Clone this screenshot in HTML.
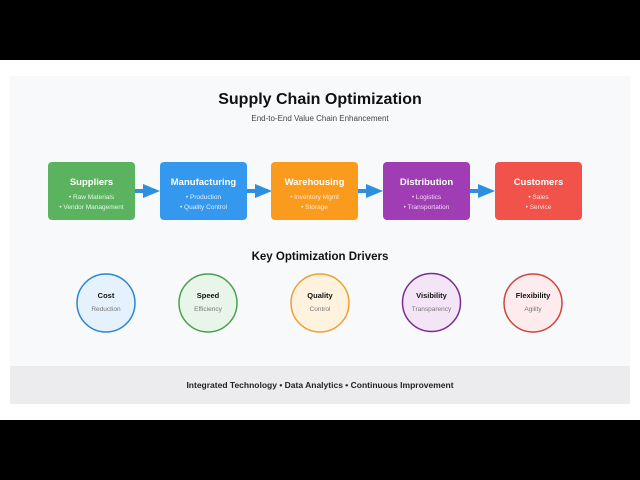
<!DOCTYPE html>
<html><head><meta charset="utf-8"><style>
html,body{margin:0;padding:0;background:#fff;}
svg{display:block;font-family:"Liberation Sans",Arial,sans-serif;}
</style></head><body>
<svg width="640" height="480" viewBox="0 0 640 480" xmlns="http://www.w3.org/2000/svg">
<rect x="0" y="0" width="640" height="60" fill="#000"/>
<rect x="0" y="420" width="640" height="60" fill="#000"/>
<rect x="10" y="76" width="620" height="328" fill="#f8f9fa"/>
<rect x="10" y="366" width="620" height="38" fill="#ececee"/>
<text x="320" y="104" text-anchor="middle" font-size="16" font-weight="bold" fill="#111">Supply Chain Optimization</text>
<text x="320" y="121" text-anchor="middle" font-size="8" fill="#444">End-to-End Value Chain Enhancement</text>
<defs><marker id="a" markerWidth="8" markerHeight="8" refX="7" refY="4" orient="auto" markerUnits="userSpaceOnUse"><path d="M0,0 L8,4 L0,8 z" fill="#2e8ee0"/></marker></defs>
<g fill="#2e8ee0">
<rect x="135" y="189" width="10" height="4"/><path d="M143,184 L160,191 L143,198 z"/>
<rect x="247" y="189" width="10" height="4"/><path d="M255,184 L272,191 L255,198 z"/>
<rect x="358" y="189" width="10" height="4"/><path d="M366,184 L383,191 L366,198 z"/>
<rect x="470" y="189" width="10" height="4"/><path d="M478,184 L495,191 L478,198 z"/>
</g>
<g font-size="6.5" fill="#fff" text-anchor="middle">
<rect x="48" y="162" width="87" height="58" rx="4" fill="#5cb35f"/>
<text x="91.5" y="185" font-size="9.5" font-weight="bold">Suppliers</text>
<text x="91.5" y="199" fill="#e6f4e6">• Raw Materials</text>
<text x="91.5" y="209" fill="#e6f4e6">• Vendor Management</text>
<rect x="160" y="162" width="87" height="58" rx="4" fill="#3398ee"/>
<text x="203.5" y="185" font-size="9.5" font-weight="bold">Manufacturing</text>
<text x="203.5" y="199" fill="#e3f0fc">• Production</text>
<text x="203.5" y="209" fill="#e3f0fc">• Quality Control</text>
<rect x="271" y="162" width="87" height="58" rx="4" fill="#fb9b1e"/>
<text x="314.5" y="185" font-size="9.5" font-weight="bold">Warehousing</text>
<text x="314.5" y="199" fill="#fde8cc">• Inventory Mgmt</text>
<text x="314.5" y="209" fill="#fde8cc">• Storage</text>
<rect x="383" y="162" width="87" height="58" rx="4" fill="#a03cb4"/>
<text x="426.5" y="185" font-size="9.5" font-weight="bold">Distribution</text>
<text x="426.5" y="199" fill="#f0dcf4">• Logistics</text>
<text x="426.5" y="209" fill="#f0dcf4">• Transportation</text>
<rect x="495" y="162" width="87" height="58" rx="4" fill="#f1524a"/>
<text x="538.5" y="185" font-size="9.5" font-weight="bold">Customers</text>
<text x="538.5" y="199" fill="#fde0de">• Sales</text>
<text x="538.5" y="209" fill="#fde0de">• Service</text>
</g>
<text x="320" y="260" text-anchor="middle" font-size="11.5" font-weight="bold" fill="#111">Key Optimization Drivers</text>
<g text-anchor="middle" stroke-width="1.5">
<circle cx="106" cy="303" r="29" fill="#e5f1fc" stroke="#2a86cf"/>
<circle cx="208" cy="303" r="29" fill="#e8f5e9" stroke="#4aa04e"/>
<circle cx="320" cy="303" r="29" fill="#fff3e0" stroke="#eea032"/>
<circle cx="431.5" cy="302.5" r="29" fill="#f4e5f6" stroke="#7b2a92"/>
<circle cx="533" cy="303" r="29" fill="#fdebee" stroke="#d0443c"/>
</g>
<g text-anchor="middle" font-size="7.5" font-weight="bold" fill="#111">
<text x="106" y="298">Cost</text><text x="208" y="298">Speed</text><text x="320" y="298">Quality</text><text x="431.5" y="298">Visibility</text><text x="533" y="298">Flexibility</text>
</g>
<g text-anchor="middle" font-size="6.5" fill="#777">
<text x="106" y="311">Reduction</text><text x="208" y="311">Efficiency</text><text x="320" y="311">Control</text><text x="431.5" y="311">Transparency</text><text x="533" y="311">Agility</text>
</g>
<text x="320" y="388" text-anchor="middle" font-size="8.5" font-weight="bold" fill="#222">Integrated Technology • Data Analytics • Continuous Improvement</text>
</svg>
</body></html>
